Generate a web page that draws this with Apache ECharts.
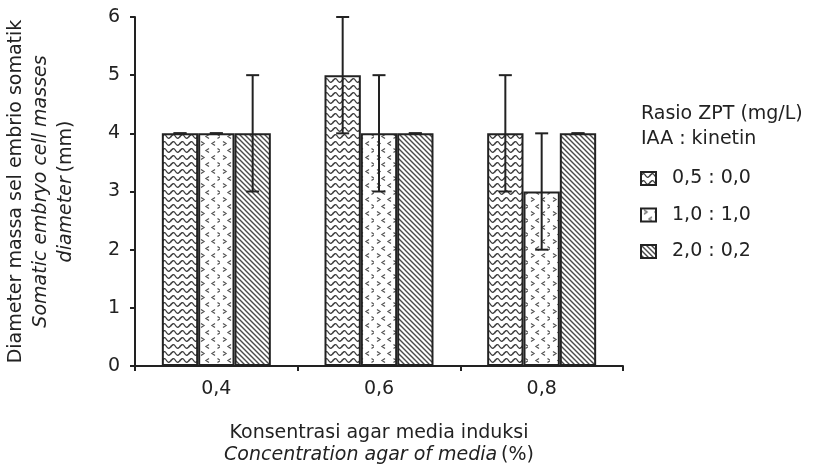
<!DOCTYPE html>
<html>
<head>
<meta charset="utf-8">
<style>
  html, body { margin: 0; padding: 0; background: #fff; }
  #chart { width: 821px; height: 466px; }
</style>
<script src="https://cdn.jsdelivr.net/npm/echarts@6/dist/echarts.min.js"></script>
</head>
<body>
<div id="chart"></div>
<script>
var categories = ['0,4', '0,6', '0,8'];
var seriesNames = ['0,5 : 0,0', '1,0 : 1,0', '2,0 : 0,2'];
var means1 = [4, 5, 4];
var means2 = [4, 4, 3];
var means3 = [4, 4, 4];
var errs1 = [0, 1, 1];
var errs2 = [0, 1, 1];
var errs3 = [1, 0, 0];
var yTicks = [0, 1, 2, 3, 4, 5, 6];

var font = 'DejaVu Sans';
var ink = '#222';
var catGap = 0.33;
var fs = 19;

// small canvas textures for the three fills
function wavePattern() {
  var c = document.createElement('canvas');
  c.width = 9; c.height = 7;
  var g = c.getContext('2d');
  g.fillStyle = '#fff'; g.fillRect(0, 0, 9, 7);
  g.strokeStyle = '#3a3a3a'; g.lineWidth = 1.3;
  g.beginPath();
  g.moveTo(-0.5, 4.5);
  g.quadraticCurveTo(2.25, -0.5, 4.5, 3.5);
  g.quadraticCurveTo(6.75, 7.5, 9.5, 2.5);
  g.stroke();
  return c;
}
function chevronPattern() {
  var c = document.createElement('canvas');
  c.width = 22; c.height = 14;
  var g = c.getContext('2d');
  g.fillStyle = '#fff'; g.fillRect(0, 0, 22, 14);
  g.strokeStyle = '#555'; g.lineWidth = 1.3;
  g.beginPath();
  // row A
  g.moveTo(3, 1.5); g.lineTo(6, 3.5); g.lineTo(3, 5.5);
  g.moveTo(17, 1.5); g.lineTo(14, 3.5); g.lineTo(17, 5.5);
  // row B
  g.moveTo(11, 8.5); g.lineTo(8, 10.5); g.lineTo(11, 12.5);
  g.moveTo(19.5, 8.5); g.lineTo(22.5, 10.5); g.lineTo(19.5, 12.5);
  g.stroke();
  return c;
}
function hatchPattern() {
  var c = document.createElement('canvas');
  c.width = 5; c.height = 5;
  var g = c.getContext('2d');
  g.fillStyle = '#fff'; g.fillRect(0, 0, 5, 5);
  g.strokeStyle = '#4a4a4a'; g.lineWidth = 1.4;
  g.beginPath();
  g.moveTo(-1, -1); g.lineTo(6, 6);
  g.moveTo(-1, 4); g.lineTo(1, 6);
  g.moveTo(4, -1); g.lineTo(6, 1);
  g.stroke();
  return c;
}

var fills = [wavePattern(), chevronPattern(), hatchPattern()];
var allMeans = [means1, means2, means3];
var allErrs = [errs1, errs2, errs3];

var errData = [];
for (var s = 0; s < 3; s++) {
  for (var i = 0; i < categories.length; i++) {
    errData.push([i, s, allMeans[s][i] - allErrs[s][i], allMeans[s][i] + allErrs[s][i]]);
  }
}

var series = seriesNames.map(function(name, s) {
  return {
    name: name,
    type: 'bar',
    data: allMeans[s],
    barGap: '0%',
    barCategoryGap: (catGap * 100) + '%',
    itemStyle: {
      color: { image: fills[s], repeat: 'repeat' },
      borderColor: ink,
      borderWidth: 2
    },
    emphasis: { disabled: true }
  };
});

series.push({
  type: 'custom',
  z: 10,
  silent: true,
  data: errData,
  renderItem: function(params, api) {
    var cat = api.value(0), s = api.value(1);
    var bandW = api.size([1, 0])[0];
    var barW = bandW * (1 - catGap) / 3;
    var x = api.coord([cat, 0])[0] + (s - 1) * barW;
    var yLo = api.coord([cat, api.value(2)])[1];
    var yHi = api.coord([cat, api.value(3)])[1];
    var cap = 6.5;
    var st = { stroke: ink, lineWidth: 2 };
    return {
      type: 'group',
      children: [
        { type: 'line', shape: { x1: x, y1: yLo, x2: x, y2: yHi }, style: st },
        { type: 'line', shape: { x1: x - cap, y1: yHi, x2: x + cap, y2: yHi }, style: st },
        { type: 'line', shape: { x1: x - cap, y1: yLo, x2: x + cap, y2: yLo }, style: st }
      ]
    };
  }
});

var chart = echarts.init(document.getElementById('chart'), null, { renderer: 'canvas' });
chart.setOption({
  animation: false,
  textStyle: { fontFamily: font, color: ink },
  grid: { left: 135, right: 198, top: 17, bottom: 100, containLabel: false, outerBoundsMode: 'none' },
  legend: {
    data: seriesNames,
    orient: 'vertical',
    left: 640,
    top: 169,
    padding: 0,
    icon: 'rect',
    itemWidth: 15,
    itemHeight: 13,
    itemGap: 17.5,
    textStyle: { fontFamily: font, fontSize: fs, color: ink, padding: [0, 0, 0, 11] }
  },
  graphic: [
    {
      type: 'text',
      left: 641,
      top: 102,
      style: {
        text: 'Rasio ZPT (mg/L)\nIAA : kinetin',
        font: fs + 'px "DejaVu Sans"',
        lineHeight: 25,
        fill: ink
      }
    }
  ],
  xAxis: {
    type: 'category',
    data: categories,
    name: '{a|Konsentrasi agar media induksi}\n{i|Concentration agar of media} {a|(%)}',
    nameLocation: 'middle',
    nameGap: 56,
    nameTextStyle: {
      lineHeight: 22,
      rich: {
        a: { fontFamily: font, fontSize: fs, color: ink, lineHeight: 22 },
        i: { fontFamily: font, fontSize: fs, fontStyle: 'italic', color: ink, lineHeight: 22 }
      }
    },
    axisLine: { lineStyle: { color: ink, width: 2 } },
    axisTick: { show: true, length: 5, lineStyle: { color: ink, width: 2 } },
    axisLabel: { fontFamily: font, fontSize: fs, color: ink, margin: 14 }
  },
  yAxis: {
    type: 'value',
    min: yTicks[0],
    max: yTicks[yTicks.length - 1],
    interval: 1,
    name: '{a|Diameter massa sel embrio somatik}\n{i|Somatic embryo cell masses}\n{i|diameter} {a|(mm)}',
    nameLocation: 'middle',
    nameRotate: 90,
    nameGap: 56,
    nameTextStyle: {
      lineHeight: 25,
      rich: {
        a: { fontFamily: font, fontSize: fs, color: ink, lineHeight: 25 },
        i: { fontFamily: font, fontSize: fs, fontStyle: 'italic', color: ink, lineHeight: 25 }
      }
    },
    axisLine: { show: true, lineStyle: { color: ink, width: 2 } },
    axisTick: { show: true, length: 5, lineStyle: { color: ink, width: 2 } },
    axisLabel: { fontFamily: font, fontSize: fs, color: ink, margin: 15 },
    splitLine: { show: false }
  },
  series: series
});
</script>
</body>
</html>
